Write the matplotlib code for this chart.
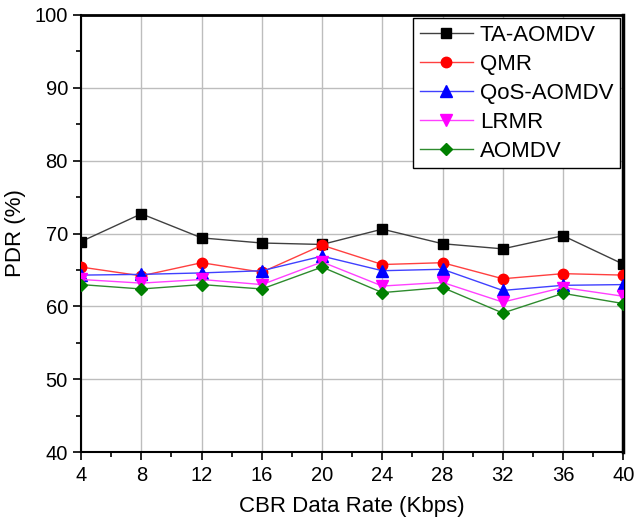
import matplotlib
matplotlib.use("Agg")
import matplotlib.pyplot as plt
from matplotlib.ticker import MultipleLocator

plt.rcParams['font.family'] = ['Liberation Sans', 'DejaVu Sans']

x = [4, 8, 12, 16, 20, 24, 28, 32, 36, 40]
ta_aomdv = [68.9, 72.7, 69.4, 68.7, 68.5, 70.6, 68.6, 67.9, 69.7, 65.8]
qmr = [65.4, 64.2, 66.0, 64.7, 68.4, 65.75, 66.0, 63.8, 64.5, 64.3]
qos_aomdv = [64.3, 64.4, 64.6, 64.9, 66.9, 64.9, 65.1, 62.2, 62.9, 63.0]
lrmr = [63.7, 63.2, 63.7, 63.0, 66.1, 62.8, 63.3, 60.6, 62.6, 61.4]
aomdv = [63.0, 62.4, 63.0, 62.4, 65.4, 61.9, 62.6, 59.1, 61.8, 60.4]

labels = ['TA-AOMDV', 'QMR', 'QoS-AOMDV', 'LRMR', 'AOMDV']
series = [ta_aomdv, qmr, qos_aomdv, lrmr, aomdv]
colors = ['black', 'red', 'blue', 'magenta', 'green']
line_colors = ['#404040', '#ff4040', '#4040ff', '#ff40ff', '#2e8b2e']
markers = ['s', 'o', '^', 'v', 'D']
msizes = [6.5, 7.5, 8, 8, 6.5]

fig = plt.figure(figsize=(6.34, 5.23), dpi=100)
ax = fig.add_axes([0.128, 0.135, 0.855, 0.837])

for y, lab, c, lc, m, ms in zip(series, labels, colors, line_colors, markers, msizes):
    ax.plot(x, y, color=lc, linewidth=1.0, marker=m, markersize=ms,
            markerfacecolor=c, markeredgecolor=c, label=lab, zorder=3)

ax.set_xlim(4, 40)
ax.set_ylim(40, 100)
ax.xaxis.set_major_locator(MultipleLocator(4))
ax.xaxis.set_minor_locator(MultipleLocator(2))
ax.yaxis.set_major_locator(MultipleLocator(10))
ax.yaxis.set_minor_locator(MultipleLocator(5))
ax.grid(True, which='major', color='#bdbdbd', linewidth=1.0, zorder=0)
ax.set_axisbelow(True)

ax.tick_params(axis='both', which='major', direction='out', length=6, width=1.2,
               labelsize=14.5, colors='black')
ax.tick_params(axis='both', which='minor', direction='out', length=3.5, width=1.2)
ax.tick_params(top=False, right=False)

for s in ['left', 'bottom']:
    ax.spines[s].set_linewidth(1.5)
ax.spines['top'].set_linewidth(2.0)
ax.spines['right'].set_linewidth(2.5)

ax.set_xlabel('CBR Data Rate (Kbps)', fontsize=16, labelpad=8)
ax.set_ylabel('PDR (%)', fontsize=16, labelpad=6)

leg = ax.legend(loc='upper right', fontsize=16, frameon=True, fancybox=False,
                edgecolor='black', framealpha=1, borderpad=0.3, labelspacing=0.36,
                handlelength=2.4, handletextpad=0.3, borderaxespad=0.15)
leg.get_frame().set_linewidth(1.0)

fig.savefig('out.png', dpi=100)
